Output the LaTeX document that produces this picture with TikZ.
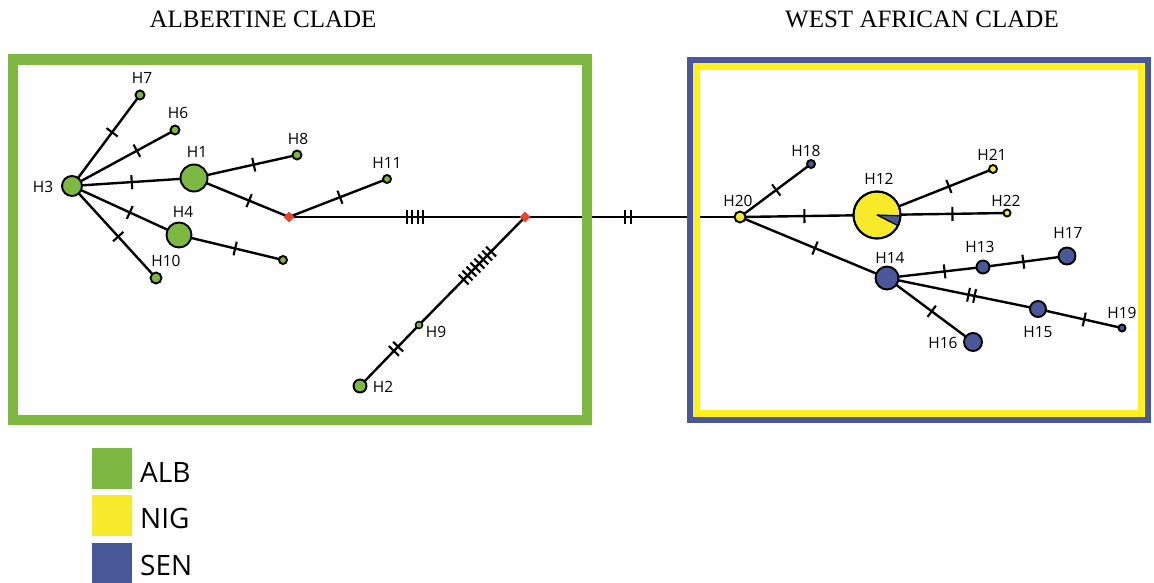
\documentclass[tikz,border=0pt]{standalone}
\usepackage{fontspec}
\setmainfont{Liberation Serif}
\newfontfamily\labfont{Open Sans}
\usetikzlibrary{shapes.geometric,calc}
\definecolor{albg}{HTML}{7DB843}
\definecolor{nigy}{HTML}{F7EA2A}
\definecolor{boxy}{HTML}{FFF01E}
\definecolor{senb}{HTML}{4A5799}
\definecolor{medr}{HTML}{E8432E}
\pgfdeclarelayer{edges}
\pgfdeclarelayer{boxes}
\pgfsetlayers{edges,boxes,main}
\begin{document}
\begin{tikzpicture}[x=1pt,y=-1pt,
  hap/.style={circle, draw=black, line width=1.9pt, inner sep=0pt},
  med/.style={diamond, fill=medr, inner sep=0pt, minimum size=11pt},
  edge/.style={line width=2.4pt, black},
  tk/.style={sloped, fill=black, inner sep=0pt, minimum width=2.1pt, minimum height=14pt},
  lab/.style={font=\labfont\fontsize{15.5}{15.5}\selectfont, inner sep=0pt},
  leg/.style={font=\labfont\fontsize{28}{28}\selectfont, inner sep=0pt, anchor=west},
  ttl/.style={font=\fontsize{25}{25}\selectfont, inner sep=0pt}
]
\useasboundingbox (0,0) rectangle (1154,583);

% titles
\node[ttl] (t1) at (263,19) {ALBERTINE CLADE};
\node[ttl] (t2) at (922,19) {WEST AFRICAN CLADE};

% haplotype nodes - Albertine
\node[hap, fill=albg, minimum size=20pt] (H3) at (72,186) {};
\node[hap, fill=albg, minimum size=9pt] (H7) at (140,95) {};
\node[hap, fill=albg, minimum size=9pt] (H6) at (175,130) {};
\node[hap, fill=albg, minimum size=27pt] (H1) at (194,178) {};
\node[hap, fill=albg, minimum size=9pt] (H8) at (297,155) {};
\node[hap, fill=albg, minimum size=25pt] (H4) at (179,235) {};
\node[hap, fill=albg, minimum size=8pt] (U) at (283,260) {};
\node[hap, fill=albg, minimum size=11pt] (H10) at (156,278) {};
\node[hap, fill=albg, minimum size=8pt] (H11) at (387,179) {};
\node[hap, fill=albg, minimum size=7pt, line width=1.5pt] (H9) at (419,325) {};
\node[hap, fill=albg, minimum size=13pt] (H2) at (360,386) {};
\node[med] (M1) at (289,217) {};
\node[med] (M2) at (525,217) {};

% haplotype nodes - West African
\node[hap, fill=nigy, minimum size=11pt] (H20) at (740,217) {};
\node[hap, fill=senb, minimum size=8pt] (H18) at (811,164) {};
\node[hap, fill=nigy, minimum size=47pt] (H12) at (877,215) {};
\fill[senb] (H12.center) -- ++(2:23.5) arc[start angle=2, end angle=27, radius=23.5] -- cycle;
\draw[line width=1.2pt, line join=round] ($(H12.center)+(2:23.5)$) -- (H12.center) -- ++(27:23.5);
\draw[line width=1.9pt] (H12.center) circle[radius=23.5];
\node[hap, fill=nigy, minimum size=8pt] (H21) at (993,169) {};
\node[hap, fill=nigy, minimum size=7pt] (H22) at (1007,213) {};
\node[hap, fill=senb, minimum size=23pt] (H14) at (887,278) {};
\node[hap, fill=senb, minimum size=13pt] (H13) at (983,267) {};
\node[hap, fill=senb, minimum size=17pt] (H17) at (1067,256) {};
\node[hap, fill=senb, minimum size=16pt] (H15) at (1038,309) {};
\node[hap, fill=senb, minimum size=7pt] (H19) at (1122,328) {};
\node[hap, fill=senb, minimum size=18pt] (H16) at (973,342) {};

% labels
\node[lab] (lH7) at (142,78) {H7};
\node[lab] (lH6) at (178,113) {H6};
\node[lab] (lH1) at (197,152) {H1};
\node[lab] (lH8) at (298,139) {H8};
\node[lab] (lH3) at (43,187) {H3};
\node[lab] (lH4) at (183,212) {H4};
\node[lab] (lH10) at (166,261) {H10};
\node[lab] (lH11) at (387,163) {H11};
\node[lab] (lH9) at (436,332) {H9};
\node[lab] (lH2) at (383,387) {H2};
\node[lab] (lH20) at (738,201) {H20};
\node[lab] (lH18) at (806,151) {H18};
\node[lab] (lH12) at (879,179) {H12};
\node[lab] (lH14) at (890,258) {H14};
\node[lab] (lH21) at (992,155) {H21};
\node[lab] (lH22) at (1006,201) {H22};
\node[lab] (lH13) at (980,247) {H13};
\node[lab] (lH17) at (1068,233) {H17};
\node[lab] (lH15) at (1038,332) {H15};
\node[lab] (lH19) at (1122,313) {H19};
\node[lab] (lH16) at (943,343) {H16};

% legend
\fill[albg] (92,448) rectangle (132,489);
\fill[nigy] (92,495) rectangle (132,536);
\fill[senb] (92,543) rectangle (132,583);
\node[leg] (lALB) at (140,472) {ALB};
\node[leg] (lNIG) at (140,518) {NIG};
\node[leg] (lSEN) at (140,565) {SEN};

% boxes
\begin{pgfonlayer}{boxes}
\draw[albg, line width=10.5pt] (13,59.5) rectangle (587,420);
\draw[senb, line width=6pt] (690,60) rectangle (1148,420);
\draw[boxy, line width=7pt] (696.5,66.5) rectangle (1141.5,413.5);
\end{pgfonlayer}

% edges
\begin{pgfonlayer}{edges}
\draw[edge] (H3.center) -- (H7.center) node[tk,pos=0.59]{};
\draw[edge] (H3.center) -- (H6.center) node[tk,pos=0.63]{};
\draw[edge] (H3.center) -- (H1.center) node[tk,pos=0.49]{};
\draw[edge] (H3.center) -- (H4.center) node[tk,pos=0.54]{};
\draw[edge] (H3.center) -- (H10.center) node[tk,pos=0.55]{};
\draw[edge] (H1.center) -- (H8.center) node[tk,pos=0.58]{};
\draw[edge] (H1.center) -- (M1.center) node[tk,pos=0.58]{};
\draw[edge] (H4.center) -- (U.center) node[tk,pos=0.54]{};
\draw[edge] (M1.center) -- (H11.center) node[tk,pos=0.52]{};
\draw[edge] (M1.center) -- (M2.center)
  node[tk,pos=0.500]{} node[tk,pos=0.523]{} node[tk,pos=0.546]{} node[tk,pos=0.569]{};
\draw[edge] (M2.center) -- (H9.center)
  node[tk,pos=0.32]{} node[tk,pos=0.357]{} node[tk,pos=0.394]{} node[tk,pos=0.431]{}
  node[tk,pos=0.468]{} node[tk,pos=0.505]{} node[tk,pos=0.542]{} node[tk,pos=0.579]{};
\draw[edge] (H9.center) -- (H2.center) node[tk,pos=0.355]{} node[tk,pos=0.425]{};
\draw[edge] (M2.center) -- (H20.center) node[tk,pos=0.465]{} node[tk,pos=0.493]{};
\draw[edge] (H20.center) -- (H18.center) node[tk,pos=0.51]{};
\draw[edge] (H20.center) -- (H12.center) node[tk,pos=0.47]{};
\draw[edge] (H20.center) -- (H14.center) node[tk,pos=0.51]{};
\draw[edge] (H12.center) -- (H21.center) node[tk,pos=0.62]{};
\draw[edge] (H12.center) -- (H22.center) node[tk,pos=0.58]{};
\draw[edge] (H14.center) -- (H13.center) node[tk,pos=0.60]{};
\draw[edge] (H13.center) -- (H17.center) node[tk,pos=0.48]{};
\draw[edge] (H14.center) -- (H15.center) node[tk,pos=0.54]{} node[tk,pos=0.58]{};
\draw[edge] (H15.center) -- (H19.center) node[tk,pos=0.55]{};
\draw[edge] (H14.center) -- (H16.center) node[tk,pos=0.52]{};
\end{pgfonlayer}
\end{tikzpicture}
\end{document}
